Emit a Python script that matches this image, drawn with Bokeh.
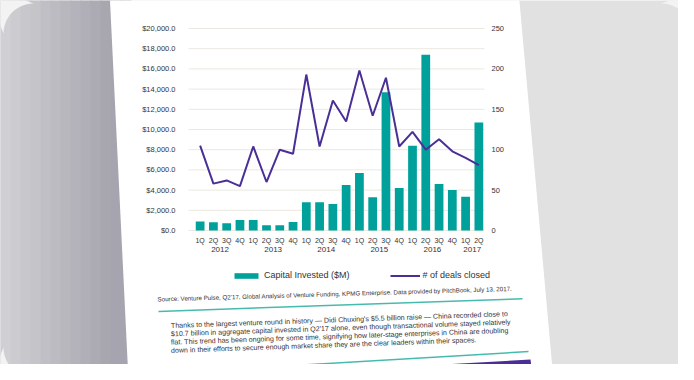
import numpy as np
from bokeh.plotting import figure
from bokeh.models import (FactorRange, Range1d, LinearAxis, FixedTicker,
                          NumeralTickFormatter, Legend, LegendItem, Label,
                          PolyAnnotation, ColumnDataSource)
from bokeh.embed import file_html
from bokeh.resources import INLINE

# ---------------- data ----------------
years = ["2012", "2013", "2014", "2015", "2016", "2017"]
quarters_per_year = [4, 4, 4, 4, 4, 2]
quarter_names = ["1Q", "2Q", "3Q", "4Q"]

capital_invested = [900, 810, 710, 1040, 1040, 520, 520, 850,
                    2800, 2800, 2620, 4500, 5700, 3300, 13700, 4200,
                    8400, 17400, 4600, 4000, 3350, 10700]
deals_closed = [105, 58, 62, 55, 104, 60, 100, 95,
                193, 104, 161, 135, 198, 142, 189, 104,
                122, 100, 113, 98, 90, 81]

left_ticks = [0, 2000, 4000, 6000, 8000, 10000, 12000, 14000, 16000, 18000, 20000]
right_ticks = [0, 50, 100, 150, 200, 250]

bar_label = "Capital Invested ($M)"
line_label = "# of deals closed"
source_text = ("Source: Venture Pulse, Q2'17, Global Analysis of Venture Funding, "
               "KPMG Enterprise. Data provided by PitchBook, July 13, 2017.")
paragraph = [
    "Thanks to the largest venture round in history \u2014 Didi Chuxing's $5.5 billion raise \u2014 China recorded close to",
    "$10.7 billion in aggregate capital invested in Q2'17 alone, even though transactional volume stayed relatively",
    "flat. This trend has been ongoing for some time, signifying how later-stage enterprises in China are doubling",
    "down in their efforts to secure enough market share they are the clear leaders within their spaces.",
]

factors = [(y, q) for y, n in zip(years, quarters_per_year) for q in quarter_names[:n]]

TEAL = "#00a19b"
PURPLE = "#4a2f97"
TXT = "#333333"
FONT = "Liberation Sans"

N = len(factors)
# geometry in picture pixels (frame covers the whole 678x364 canvas)
FR_L, FR_R, FR_T, FR_B = 0.0, 678.0, 0.0, 364.0
CH_L, CH_R = 193.0, 485.0
CH_BASE, CH_TOP = 230.0, 28.0
PX_PER_F = (CH_R - CH_L) / N
PAD = (FR_R - FR_L) / PX_PER_F / 2 - N / 2
UNIT = 20000.0 / (CH_BASE - CH_TOP)
Y0 = -(FR_B - CH_BASE) * UNIT
Y1 = (CH_BASE - FR_T) * UNIT
DEAL_SCALE = 20000.0 / 250.0

def sx(px):
    return [float((v - CH_L) / PX_PER_F) for v in np.atleast_1d(px)]

def sy(py):
    return [float((CH_BASE - v) * UNIT) for v in np.atleast_1d(py)]

src = ColumnDataSource(dict(x=factors, cap=capital_invested, deals=deals_closed))

p = figure(width=678, height=364,
           x_range=FactorRange(factors=factors, group_padding=0, factor_padding=0,
                               range_padding=PAD, range_padding_units="absolute"),
           y_range=Range1d(Y0, Y1),
           output_backend="svg", toolbar_location=None,
           min_border_left=0, min_border_right=0, min_border_top=0, min_border_bottom=0,
           border_fill_color="#e1e1e1", background_fill_color="#e1e1e1",
           outline_line_color=None)
p.extra_y_ranges = {"deals": Range1d(Y0 / DEAL_SCALE, Y1 / DEAL_SCALE)}

# ---------- page decorations (picture pixel coordinates) ----------
def poly(xs, ys, color, level="image"):
    a = PolyAnnotation(xs=sx(xs), ys=sy(ys),
                       fill_color=color, fill_alpha=1.0, line_color=None, level=level)
    p.add_layout(a)

grad_left = np.array([0xd3, 0xd3, 0xd6])
grad_right = np.array([0xa6, 0xa4, 0xae])
edges = np.linspace(-10, 130, 15)
for i in range(len(edges) - 1):
    t = min(1.0, max(0.0, (edges[i] + edges[i + 1]) / 2 / 110.0))
    c = (grad_left * (1 - t) + grad_right * t).astype(int)
    poly([edges[i], edges[i + 1] + 1, edges[i + 1] + 1, edges[i]], [-10, -10, 380, 380],
         "#%02x%02x%02x" % tuple(c))

poly([109, 518, 553, 128], [-10, -10, 380, 380], "white")

r = 30
for cx, cy, a0 in [(33, 33, 180), (661, 33, 270), (661, 347, 0), (33, 347, 90)]:
    ang = np.radians(np.linspace(a0, a0 + 90, 12))
    corner_x = cx + (r + 40) * np.cos(np.radians(a0 + 45))
    corner_y = cy + (r + 40) * np.sin(np.radians(a0 + 45))
    poly(list(cx + r * np.cos(ang)) + [corner_x], list(cy + r * np.sin(ang)) + [corner_y], "#f3f3f3")

poly([158, 522, 522, 158], [310.2, 297.5, 299.0, 311.7], "#46bbad")
poly([163, 528, 528, 163], [372.0, 350.3, 351.8, 373.5], "#46bbad")
poly([233, 530, 534, 233], [376, 359, 390, 390], "#4a2e96")

# ---------- gridlines ----------
p.xgrid.grid_line_color = None
p.ygrid.grid_line_color = None
p.segment(x0=sx(188)[0], x1=sx(484)[0], y0=left_ticks, y1=left_ticks,
          line_color="#ebe8df", line_width=1)

# ---------- chart ----------
bars = p.vbar(x="x", top="cap", width=0.66, source=src, fill_color=TEAL, line_color=None)
line = p.line(x="x", y="deals", source=src, y_range_name="deals",
              line_color=PURPLE, line_width=2)

ya = p.yaxis[0]
ya.ticker = FixedTicker(ticks=left_ticks)
ya.formatter = NumeralTickFormatter(format="$0,0.0")
ya.fixed_location = sx(189)[0]
ax_r = LinearAxis(y_range_name="deals", ticker=FixedTicker(ticks=right_ticks),
                  fixed_location=sx(482)[0])
p.add_layout(ax_r, "right")

for ax in [ya, ax_r]:
    ax.axis_line_color = None
    ax.major_tick_line_color = None
    ax.minor_tick_line_color = None
    ax.major_label_text_font = FONT
    ax.major_label_text_font_size = "7.5px"
    ax.major_label_text_color = TXT
ya.major_label_standoff = 8
ax_r.major_label_standoff = 3

xa = p.xaxis[0]
xa.fixed_location = 0
xa.axis_line_color = None
xa.major_tick_line_color = None
xa.minor_tick_line_color = None
xa.separator_line_color = None
xa.major_label_text_font = FONT
xa.major_label_text_font_size = "7px"
xa.major_label_text_color = TXT
xa.major_label_standoff = 0
xa.group_text_font = FONT
xa.group_text_font_size = "8px"
xa.group_text_font_style = "normal"
xa.group_text_color = TXT

legend = Legend(items=[LegendItem(label=bar_label, renderers=[bars]),
                       LegendItem(label=line_label, renderers=[line])],
                orientation="horizontal", location=(231, 84),
                glyph_width=30, glyph_height=7, spacing=40, label_standoff=3,
                label_text_font=FONT, label_text_font_size="9px", label_text_color=TXT,
                border_line_color=None, background_fill_alpha=0, padding=0, margin=0)
p.add_layout(legend, "center")

# ---------- texts ----------
p.add_layout(Label(x=sx(157)[0], y=sy(298.5)[0], text=source_text,
                   text_font=FONT, text_font_size="6.2px", text_color=TXT,
                   text_baseline="middle", angle=0.03))
for i, ln in enumerate(paragraph):
    p.add_layout(Label(x=sx(170.5)[0], y=sy(325.5 + 8.3 * i)[0], text=ln,
                       text_font=FONT, text_font_size="7.1px", text_color=TXT,
                       text_baseline="middle", angle=0.035))

open("out.html", "w").write(file_html(p, INLINE))
